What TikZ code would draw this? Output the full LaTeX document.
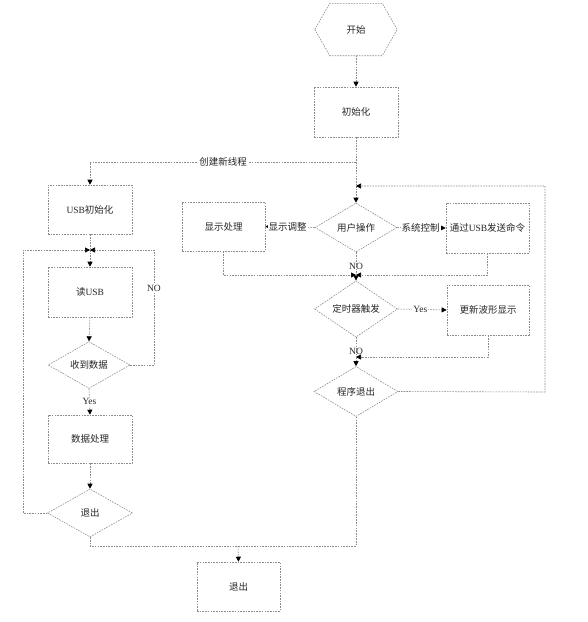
\documentclass[tikz,border=0pt]{standalone}
\usepackage{fontspec}
\setmainfont{Liberation Serif}
\newfontfamily\cjk{Noto Sans CJK SC}
\usetikzlibrary{arrows.meta,shapes.geometric}
\tikzset{
  edge/.style={draw=black!45, line width=0.6pt, dash pattern=on 1.6pt off 1.1pt},
  arr/.style={edge, -{Triangle[width=5pt,length=5pt,color=black,fill=black]}},
  txt/.style={font=\fontsize{9.5}{11}\selectfont, text=black!85},
  box/.style={edge, txt, rectangle, inner sep=0pt, minimum width=84pt, minimum height=50pt},
  dia/.style={edge, txt, diamond, inner sep=0pt, minimum width=83pt, minimum height=48pt},
  lbl/.style={txt, fill=white, inner sep=1pt},
}
\begin{document}
\begin{tikzpicture}[x=1pt,y=-1pt]
\useasboundingbox (0,0) rectangle (588,622);
% start hexagon
\node[txt, minimum width=82pt, minimum height=52pt, inner sep=0pt] (start) at (356,29.5) {\cjk 开始};
\draw[edge] (start.west) -- ([xshift=15pt]start.north west) -- ([xshift=-15pt]start.north east)
  -- (start.east) -- ([xshift=-15pt]start.south east) -- ([xshift=15pt]start.south west) -- cycle;
% boxes
\node[box] (init) at (356,112) {\cjk 初始化};
\node[box, minimum height=49pt] (usbinit) at (90,209.5) {USB{\cjk 初始化}};
\node[box] (readusb) at (90,292) {{\cjk 读}USB};
\node[dia, minimum width=82pt, minimum height=46pt] (recv) at (89,365) {\cjk 收到数据};
\node[box, minimum height=48pt] (dataproc) at (90,439) {\cjk 数据处理};
\node[dia, minimum width=85pt] (exitd) at (90,513) {\cjk 退出};
\node[box, minimum width=83pt, minimum height=49pt] (final) at (238.5,586.5) {\cjk 退出};
\node[dia, minimum width=82pt, minimum height=49pt] (userop) at (356,227.5) {\cjk 用户操作};
\node[box, minimum width=83pt, minimum height=49pt] (dispproc) at (223.5,226.5) {\cjk 显示处理};
\node[box, minimum width=83pt] (sendusb) at (487.5,228) {{\cjk 通过}USB{\cjk 发送命令}};
\node[dia] (timer) at (356,309) {\cjk 定时器触发};
\node[box, minimum width=82pt] (update) at (488,310) {\cjk 更新波形显示};
\node[dia, minimum width=84pt, minimum height=50pt] (exitprog) at (356,391.5) {\cjk 程序退出};
% junctions
\coordinate (T) at (356,162);
\coordinate (J0) at (356,186);
\coordinate (J1) at (90,250);
\coordinate (J2) at (356,275);
\coordinate (J3) at (356,357);
\coordinate (B) at (238,546);
\coordinate (BL) at (90,546);
\coordinate (BR) at (356,546);
\coordinate (LL) at (23,513);
\coordinate (LR) at (154,365);
\coordinate (RR) at (545,392);
% connectors main
\draw[arr] (start.south) -- (init.north);
\draw[edge] (init.south) -- (T);
\draw[arr] (T) -- node[lbl]{\cjk 创建新线程} (T -| usbinit.north) -- (usbinit.north);
\draw[edge] (T) -- (J0);
\draw[arr] (J0) -- (userop.north);
% left thread
\draw[edge] (usbinit.south) -- (J1);
\draw[arr] (J1) -- (readusb.north);
\draw[arr] (readusb.south) -- (recv.north);
\draw[arr] (recv.east) -- (LR) -- node[lbl, pos=0.67]{NO} (LR |- J1) -- (J1);
\draw[arr] (recv.south) -- node[lbl, pos=0.5]{Yes} (dataproc.north);
\draw[arr] (dataproc.south) -- (exitd.north);
\draw[arr] (exitd.west) -- (LL) -- (LL |- J1) -- (J1);
\draw[edge] (exitd.south) -- (BL) -- (BR);
\draw[arr] (B) -- (final.north);
% right thread
\draw[arr] (userop.west) -- node[lbl, pos=0.55]{\cjk 显示调整} (dispproc.east);
\draw[arr] (userop.east) -- node[lbl, pos=0.48]{\cjk 系统控制} (sendusb.west);
\draw[arr] (dispproc.south) -- (dispproc.south |- J2) -- (J2);
\draw[arr] (sendusb.south) -- (sendusb.south |- J2) -- (J2);
\draw[edge] (userop.south) -- node[lbl, pos=0.6, fill=none]{NO} (J2);
\draw[arr] (J2) -- (timer.north);
\draw[arr] (timer.east) -- node[lbl, pos=0.46]{Yes} (update.west);
\draw[arr] (update.south) -- (update.south |- J3) -- (J3);
\draw[edge] (timer.south) -- node[lbl, pos=0.7, fill=none]{NO} (J3);
\draw[arr] (J3) -- (exitprog.north);
\draw[arr] (exitprog.east) -- (RR) -- (RR |- J0) -- (J0);
\draw[edge] (exitprog.south) -- (BR);
\end{tikzpicture}
\end{document}
